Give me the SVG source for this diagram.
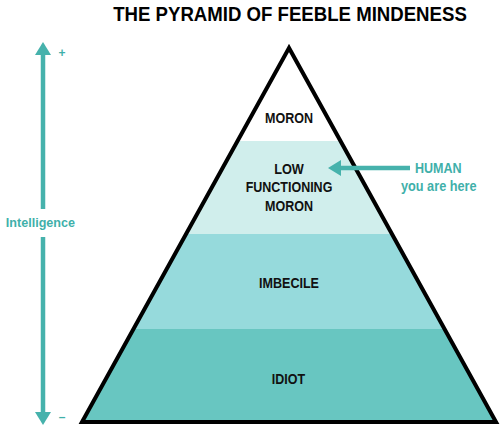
<svg xmlns="http://www.w3.org/2000/svg" width="500" height="426" viewBox="0 0 500 426">
  <defs>
    <style>
      .lbl { font-family: "Liberation Sans", Arial, sans-serif; font-weight: bold; font-size: 14.5px; fill: #111; text-anchor: middle; }
      .teal { font-family: "Liberation Sans", Arial, sans-serif; font-weight: bold; fill: #3fb0aa; text-anchor: middle; }
      .title { font-family: "Liberation Sans", Arial, sans-serif; font-weight: bold; font-size: 21px; fill: #000; text-anchor: middle; }
      .conn { stroke: #46b2ac; stroke-width: 4.5; fill: none; }
    </style>
    <clipPath id="tri">
      <polygon points="289,48 82,422 496,422"/>
    </clipPath>
    <marker id="head" viewBox="0 0 13 16" refX="0" refY="8" markerWidth="13" markerHeight="16" markerUnits="userSpaceOnUse" orient="auto">
      <path d="M0,0 L13,8 L0,16 Z" fill="#46b2ac"/>
    </marker>
  </defs>
  <rect width="500" height="426" fill="#fff"/>

  <text class="title" transform="translate(290,20.5) scale(0.887,1)" x="0" y="0">THE PYRAMID OF FEEBLE MINDENESS</text>

  <g id="pyramid">
    <g clip-path="url(#tri)">
      <rect id="band-moron" x="0" y="40" width="500" height="101" fill="#ffffff"/>
      <rect id="band-lfm" x="0" y="141" width="500" height="93" fill="#d0eeec"/>
      <rect id="band-imbecile" x="0" y="234" width="500" height="95" fill="#96dadc"/>
      <rect id="band-idiot" x="0" y="329" width="500" height="100" fill="#68c6c1"/>
    </g>
    <polygon points="289,48 82,422 496,422" fill="none" stroke="#000" stroke-width="4" stroke-linejoin="miter" stroke-miterlimit="10"/>
  </g>

  <g id="moron">
    <text class="lbl" x="289" y="122.7" textLength="48" lengthAdjust="spacingAndGlyphs">MORON</text>
  </g>
  <g id="low-functioning-moron">
    <text class="lbl" x="289" y="174" textLength="29.7" lengthAdjust="spacingAndGlyphs">LOW</text>
    <text class="lbl" x="289" y="192.3" textLength="86.7" lengthAdjust="spacingAndGlyphs">FUNCTIONING</text>
    <text class="lbl" x="289" y="210.7" textLength="48" lengthAdjust="spacingAndGlyphs">MORON</text>
  </g>
  <g id="imbecile">
    <text class="lbl" x="289" y="287.5" textLength="60" lengthAdjust="spacingAndGlyphs">IMBECILE</text>
  </g>
  <g id="idiot">
    <text class="lbl" x="288.5" y="384" textLength="33.3" lengthAdjust="spacingAndGlyphs">IDIOT</text>
  </g>

  <g id="human">
    <text class="teal" x="438.3" y="173.3" font-size="14" textLength="46.7" lengthAdjust="spacingAndGlyphs">HUMAN</text>
    <text class="teal" x="438.8" y="190.5" font-size="14" textLength="75.7" lengthAdjust="spacingAndGlyphs">you are here</text>
  </g>

  <g id="intelligence">
    <text class="teal" x="40.4" y="226.5" font-size="13" textLength="69.3" lengthAdjust="spacingAndGlyphs">Intelligence</text>
    <text class="teal" x="62" y="57" font-size="12">+</text>
    <text class="teal" x="62" y="421" font-size="12">–</text>
  </g>

  <g id="connectors">
    <line class="conn" x1="43" y1="209" x2="43" y2="55" marker-end="url(#head)"/>
    <line class="conn" x1="43" y1="237" x2="43" y2="412" marker-end="url(#head)"/>
    <line class="conn" x1="410" y1="168" x2="341" y2="168" stroke-width="4" marker-end="url(#head)"/>
  </g>
</svg>
